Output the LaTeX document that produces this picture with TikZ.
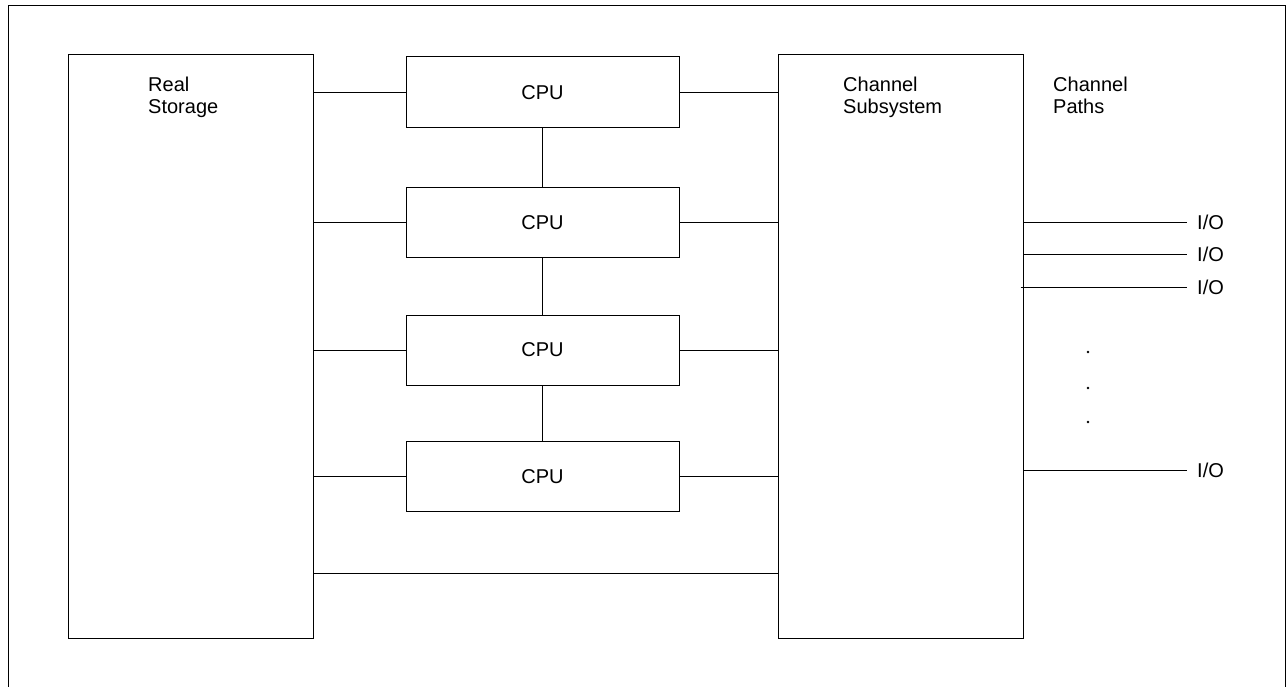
\documentclass[tikz,border=0pt]{standalone}
\usepackage{fontspec}
\setmainfont{Liberation Sans}
\usepackage{tikz}

\tikzset{
  unit/.style={draw, line width=1pt, inner sep=0pt},
  label/.style={anchor=north west, align=left, inner sep=0pt, font=\fontsize{20}{21.5}\selectfont},
  io/.style={anchor=west, inner sep=10pt, font=\fontsize{20}{21.5}\selectfont},
  wire/.style={line width=1pt}
}

\begin{document}
\begin{tikzpicture}[x=1pt,y=1pt]
\useasboundingbox (0,0) rectangle (1288,-687);
% frame
\draw [line width=0.8pt] (8,-690) -- (8,-5) -- (1285,-5) -- (1285,-690);
% storage and channel subsystem
\node [unit, minimum width=245, minimum height=583] (mem) at (190.5,-346.5) {};
\node [unit, minimum width=245, minimum height=583] (chan) at (900.5,-346.5) {};
\node [label] (memtxt) at (148,-77) {Real\\Storage};
\node [label] (chantxt) at (843,-77) {Channel\\Subsystem};
\node [label] (pathtxt) at (1053,-77) {Channel\\Paths};
% processors
\node [unit, minimum width=273, minimum height=71, font=\fontsize{20}{21.5}\selectfont] (cpu1) at (542.5,-92.5) {CPU};
\node [unit, minimum width=273, minimum height=70, font=\fontsize{20}{21.5}\selectfont] (cpu2) at (542.5,-223) {CPU};
\node [unit, minimum width=273, minimum height=70, font=\fontsize{20}{21.5}\selectfont] (cpu3) at (542.5,-350) {CPU};
\node [unit, minimum width=273, minimum height=70, font=\fontsize{20}{21.5}\selectfont] (cpu4) at (542.5,-476.5) {CPU};
\foreach \c in {cpu1,cpu2,cpu3,cpu4} {
  \draw [wire] (mem.east |- \c.west) -- (\c.west);
  \draw [wire] (\c.east) -- (chan.west |- \c.east);
}
\draw [wire] (cpu1.south) -- (cpu2.north);
\draw [wire] (cpu2.south) -- (cpu3.north);
\draw [wire] (cpu3.south) -- (cpu4.north);
\draw [wire] (mem.east |- 0,-573) -- (chan.west |- 0,-573);
% channel paths
\node [io] (io1) at (1187,-222.5) {I/O};
\node [io] (io2) at (1187,-254.5) {I/O};
\node [io] (io3) at (1187,-287) {I/O};
\node [io] (io4) at (1187,-470) {I/O};
\draw [wire] (chan.east |- io1.west) -- (io1.west);
\draw [wire] (chan.east |- io2.west) -- (io2.west);
\draw [wire] ([xshift=-3pt]chan.east |- io3.west) -- (io3.west);
\draw [wire] (chan.east |- io4.west) -- (io4.west);
\foreach \y in {-352,-388,-422}
  \fill (1088,\y) circle (1.4);
\end{tikzpicture}
\end{document}
